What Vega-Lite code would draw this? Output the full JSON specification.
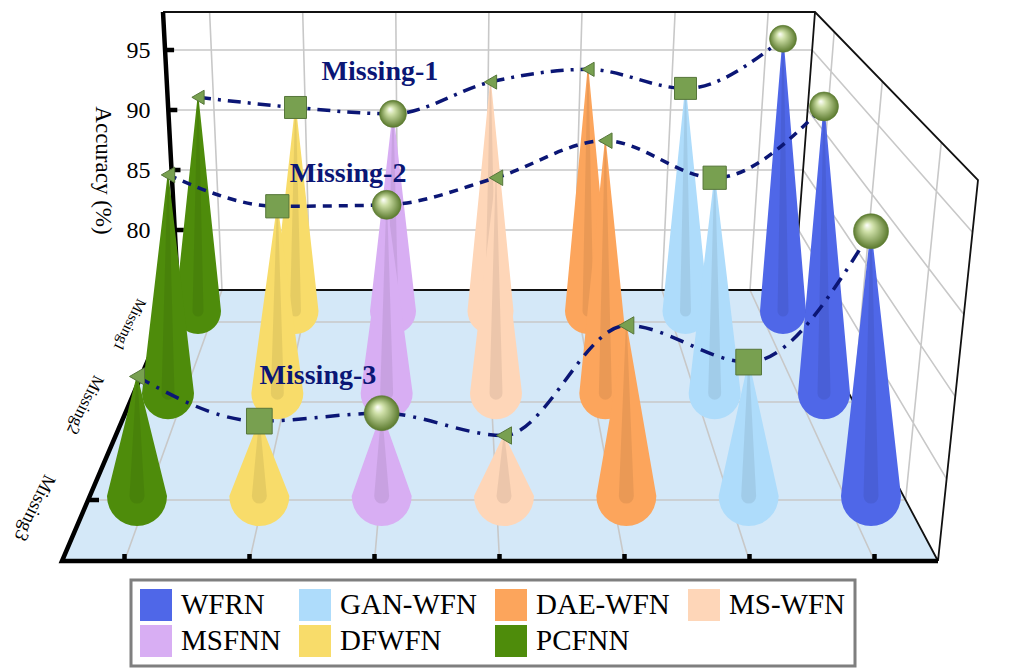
{
  "$schema": "https://vega.github.io/schema/vega-lite/v6.json",
  "width": 644,
  "height": 276,
  "autosize": {"type": "none"},
  "padding": {"left": 168, "top": 14, "right": 215, "bottom": 379},
  "background": "white",
  "config": {
    "view": {"stroke": null},
    "font": "Liberation Serif",
    "legend": {
      "symbolType": "square",
      "symbolSize": 1024,
      "symbolStrokeWidth": 0,
      "symbolOpacity": 1,
      "labelFont": "Liberation Serif",
      "labelFontSize": 29,
      "labelColor": "black",
      "labelOffset": 9,
      "columnPadding": 18,
      "rowPadding": 4,
      "padding": 9,
      "strokeColor": "#7f7f7f",
      "fillColor": "white"
    }
  },
  "data": {
    "values": [
      {"model": "PCFNN", "missing": "Missing-1", "acc": 91.8},
      {"model": "DFWFN", "missing": "Missing-1", "acc": 91.0},
      {"model": "MSFNN", "missing": "Missing-1", "acc": 90.5},
      {"model": "MS-WFN", "missing": "Missing-1", "acc": 93.0},
      {"model": "DAE-WFN", "missing": "Missing-1", "acc": 94.0},
      {"model": "GAN-WFN", "missing": "Missing-1", "acc": 92.5},
      {"model": "WFRN", "missing": "Missing-1", "acc": 96.4},
      {"model": "PCFNN", "missing": "Missing-2", "acc": 90.3},
      {"model": "DFWFN", "missing": "Missing-2", "acc": 88.1},
      {"model": "MSFNN", "missing": "Missing-2", "acc": 88.2},
      {"model": "MS-WFN", "missing": "Missing-2", "acc": 90.1},
      {"model": "DAE-WFN", "missing": "Missing-2", "acc": 92.7},
      {"model": "GAN-WFN", "missing": "Missing-2", "acc": 90.1},
      {"model": "WFRN", "missing": "Missing-2", "acc": 95.1},
      {"model": "PCFNN", "missing": "Missing-3", "acc": 82.5},
      {"model": "DFWFN", "missing": "Missing-3", "acc": 79.7},
      {"model": "MSFNN", "missing": "Missing-3", "acc": 80.2},
      {"model": "MS-WFN", "missing": "Missing-3", "acc": 78.8},
      {"model": "DAE-WFN", "missing": "Missing-3", "acc": 85.7},
      {"model": "GAN-WFN", "missing": "Missing-3", "acc": 83.4},
      {"model": "WFRN", "missing": "Missing-3", "acc": 91.6}
    ]
  },
  "resolve": {"scale": {"x": "independent", "y": "independent"}},
  "layer": [
    {
      "transform": [{"aggregate": [{"op": "count", "as": "n"}]}],
      "encoding": {
        "x": {"datum": 3.5, "type": "quantitative", "scale": {"domain": [0, 7], "nice": false, "zero": false}, "axis": null},
        "y": {
          "datum": 75, "type": "quantitative",
          "scale": {"domain": [75, 98], "nice": false, "zero": false},
          "axis": {
            "values": [80, 85, 90, 95],
            "title": "Accuracy (%)",
            "titleFont": "Liberation Serif",
            "titleFontSize": 23,
            "titleFontWeight": "normal",
            "titleColor": "black",
            "titleAngle": 90,
            "titleBaseline": "middle",
            "titleX": -66,
            "titleY": 156,
            "labelFont": "Liberation Serif",
            "labelFontSize": 24,
            "labelColor": "black",
            "labelPadding": 18,
            "ticks": false,
            "tickSize": 0,
            "domain": false,
            "grid": false
          }
        }
      },
      "layer": [
        {"mark": {"type": "point", "shape": "M-312,0L304,0L448,271L-428,271Z", "size": 4, "filled": true, "color": "#d4e8f8", "strokeWidth": 0, "opacity": 1}},
        {"mark": {"type": "point", "shape": "M-324.9,-240L322.1,-240M-321.7,-180L317.6,-180M-318.5,-120L313.1,-120M-315.2,-60L308.5,-60M-280.4,-278L-268,0M-187.3,-278L-180,0M-94.2,-278L-92,0M-1.1,-278L-4,0M92,-278L84,0M185.1,-278L172,0M278.2,-278L260,0M-268,0L-365.5,271M-180,0L-240.5,271M-92,0L-115.5,271M-4,0L9.5,271M84,0L134.5,271M172,0L259.5,271M260,0L384.5,271M-325.7,32L321,32M-360,112L363.5,112M-402,210L415.6,210M322.1,-240L482.5,-57.8M317.6,-180L473.9,24.4M313.1,-120L465.3,106.6M308.5,-60L456.6,188.8M344.2,-258.2L321,32M392.3,-208.6L363.5,112M451.3,-147.8L415.6,210", "size": 4, "filled": false, "color": "#c8c8c8", "strokeWidth": 1.6, "opacity": 1}},
        {"mark": {"type": "point", "shape": "M-327,-278L325,-278L488,-110L448,271M325,-278L304,0L448,271M-312,0L304,0", "size": 4, "filled": false, "color": "#111111", "strokeWidth": 1.8, "opacity": 1}},
        {"mark": {"type": "point", "shape": "M-327,-278L-312,0L-428,271L448,271M-324.9,-240h9M-321.7,-180h9M-318.5,-120h9M-315.2,-60h9M-325.7,32h9M-360,112h10M-402,210h11M-365.5,271v-7M-240.5,271v-7M-115.5,271v-7M9.5,271v-7M134.5,271v-7M259.5,271v-7M384.5,271v-7", "size": 4, "filled": false, "color": "black", "strokeWidth": 4.5, "opacity": 1}}
      ]
    },
    {
      "transform": [{"filter": "datum.missing == 'Missing-1'"}],
      "encoding": {
        "x": {"field": "model", "type": "nominal", "scale": {"type": "point", "domain": ["PCFNN", "DFWFN", "MSFNN", "MS-WFN", "DAE-WFN", "GAN-WFN", "WFRN"], "range": [30, 615], "padding": 0}, "axis": null},
        "y": {"field": "acc", "type": "quantitative", "scale": {"domain": [76.65, 98.35], "nice": false, "zero": false}, "axis": null}
      },
      "layer": [
        {
          "transform": [{"impute": "acc", "key": "missing", "keyvals": ["Missing-1", "base"], "groupby": ["model"], "value": 75}],
          "mark": {"type": "trail", "opacity": 1},
          "encoding": {
            "color": {"field": "model", "type": "nominal", "scale": {"domain": ["WFRN", "GAN-WFN", "DAE-WFN", "MS-WFN", "MSFNN", "DFWFN", "PCFNN"], "range": ["#4f67e8", "#aedcfb", "#fca55c", "#fed6b8", "#d8aef3", "#f8dc6a", "#4e8c0b"]}, "legend": {"orient": "none", "legendX": -37, "legendY": 566, "columns": 4, "direction": "horizontal", "title": null, "encode": {"symbols": {"update": {"fill": {"scale": "color", "field": "value"}, "fillOpacity": {"value": 1}, "opacity": {"value": 1}}}, "legend": {"update": {"strokeWidth": {"value": 3}}}}}},
            "size": {"condition": {"test": "datum.missing == 'base'", "value": 46}, "value": 0},
            "order": {"value": null}
          }
        },
        {
          "transform": [{"impute": "acc", "key": "missing", "keyvals": ["Missing-1", "base"], "groupby": ["model"], "value": 75}],
          "mark": {"type": "trail", "color": "black", "opacity": 0.07},
          "encoding": {
            "detail": {"field": "model"},
            "size": {"condition": {"test": "datum.missing == 'base'", "value": 11}, "value": 0},
            "order": {"value": null}
          }
        },
        {
          "mark": {"type": "line", "interpolate": "monotone", "color": "#0b1675", "strokeWidth": 3.5, "strokeDash": [13, 7, 3, 7]},
          "encoding": {"order": {"value": null}}
        },
        {
          "transform": [{"filter": "datum.model != 'MSFNN' && datum.model != 'WFRN'"}],
          "mark": {"type": "point", "filled": true, "color": "#78a050", "stroke": "#56763a", "strokeWidth": 1, "opacity": 1},
          "encoding": {
            "shape": {"field": "model", "type": "nominal", "scale": {"domain": ["PCFNN", "DFWFN", "MS-WFN", "DAE-WFN", "GAN-WFN"], "range": ["triangle-left", "square", "triangle-left", "triangle-left", "square"]}, "legend": null},
            "size": {"condition": {"test": "datum.model == 'DFWFN' || datum.model == 'GAN-WFN'", "value": 484}, "value": 200}
          }
        },
        {
          "transform": [{"filter": "datum.model == 'MSFNN' || datum.model == 'WFRN'"}],
          "mark": {"type": "point", "shape": "circle", "filled": true, "size": 729, "opacity": 1, "stroke": "#5a7a30", "strokeWidth": 0.6,
            "fill": {"gradient": "radial", "x1": 0.38, "y1": 0.32, "r1": 0, "x2": 0.5, "y2": 0.5, "r2": 0.5, "stops": [{"offset": 0, "color": "#ffffff"}, {"offset": 0.3, "color": "#cfe0a8"}, {"offset": 1, "color": "#5b7a2e"}]}}
        }
      ]
    },
    {
      "transform": [{"filter": "datum.missing == 'Missing-2'"}],
      "encoding": {
        "x": {"field": "model", "type": "nominal", "scale": {"type": "point", "domain": ["PCFNN", "DFWFN", "MSFNN", "MS-WFN", "DAE-WFN", "GAN-WFN", "WFRN"], "range": [0, 656], "padding": 0}, "axis": null},
        "y": {"field": "acc", "type": "quantitative", "scale": {"domain": [82.23, 101.58], "nice": false, "zero": false}, "axis": null}
      },
      "layer": [
        {
          "transform": [{"impute": "acc", "key": "missing", "keyvals": ["Missing-2", "base"], "groupby": ["model"], "value": 75}],
          "mark": {"type": "trail", "opacity": 1},
          "encoding": {
            "color": {"field": "model", "type": "nominal", "scale": {"domain": ["WFRN", "GAN-WFN", "DAE-WFN", "MS-WFN", "MSFNN", "DFWFN", "PCFNN"], "range": ["#4f67e8", "#aedcfb", "#fca55c", "#fed6b8", "#d8aef3", "#f8dc6a", "#4e8c0b"]}, "legend": {"orient": "none", "legendX": -37, "legendY": 566, "columns": 4, "direction": "horizontal", "title": null, "encode": {"symbols": {"update": {"fill": {"scale": "color", "field": "value"}, "fillOpacity": {"value": 1}, "opacity": {"value": 1}}}, "legend": {"update": {"strokeWidth": {"value": 3}}}}}},
            "size": {"condition": {"test": "datum.missing == 'base'", "value": 52}, "value": 0},
            "order": {"value": null}
          }
        },
        {
          "transform": [{"impute": "acc", "key": "missing", "keyvals": ["Missing-2", "base"], "groupby": ["model"], "value": 75}],
          "mark": {"type": "trail", "color": "black", "opacity": 0.07},
          "encoding": {
            "detail": {"field": "model"},
            "size": {"condition": {"test": "datum.missing == 'base'", "value": 13}, "value": 0},
            "order": {"value": null}
          }
        },
        {
          "mark": {"type": "line", "interpolate": "monotone", "color": "#0b1675", "strokeWidth": 3.5, "strokeDash": [9, 7]},
          "encoding": {"order": {"value": null}}
        },
        {
          "transform": [{"filter": "datum.model != 'MSFNN' && datum.model != 'WFRN'"}],
          "mark": {"type": "point", "filled": true, "color": "#78a050", "stroke": "#56763a", "strokeWidth": 1, "opacity": 1},
          "encoding": {
            "shape": {"field": "model", "type": "nominal", "scale": {"domain": ["PCFNN", "DFWFN", "MS-WFN", "DAE-WFN", "GAN-WFN"], "range": ["triangle-left", "square", "triangle-left", "triangle-left", "square"]}, "legend": null},
            "size": {"condition": {"test": "datum.model == 'DFWFN' || datum.model == 'GAN-WFN'", "value": 540}, "value": 240}
          }
        },
        {
          "transform": [{"filter": "datum.model == 'MSFNN' || datum.model == 'WFRN'"}],
          "mark": {"type": "point", "shape": "circle", "filled": true, "size": 841, "opacity": 1, "stroke": "#5a7a30", "strokeWidth": 0.6,
            "fill": {"gradient": "radial", "x1": 0.38, "y1": 0.32, "r1": 0, "x2": 0.5, "y2": 0.5, "r2": 0.5, "stops": [{"offset": 0, "color": "#ffffff"}, {"offset": 0.3, "color": "#cfe0a8"}, {"offset": 1, "color": "#5b7a2e"}]}}
        }
      ]
    },
    {
      "transform": [{"filter": "datum.missing == 'Missing-3'"}],
      "encoding": {
        "x": {"field": "model", "type": "nominal", "scale": {"type": "point", "domain": ["PCFNN", "DFWFN", "MSFNN", "MS-WFN", "DAE-WFN", "GAN-WFN", "WFRN"], "range": [-31, 703], "padding": 0}, "axis": null},
        "y": {"field": "acc", "type": "quantitative", "scale": {"domain": [87.92, 105.22], "nice": false, "zero": false}, "axis": null}
      },
      "layer": [
        {
          "transform": [{"impute": "acc", "key": "missing", "keyvals": ["Missing-3", "base"], "groupby": ["model"], "value": 75}],
          "mark": {"type": "trail", "opacity": 1},
          "encoding": {
            "color": {"field": "model", "type": "nominal", "scale": {"domain": ["WFRN", "GAN-WFN", "DAE-WFN", "MS-WFN", "MSFNN", "DFWFN", "PCFNN"], "range": ["#4f67e8", "#aedcfb", "#fca55c", "#fed6b8", "#d8aef3", "#f8dc6a", "#4e8c0b"]}, "legend": {"orient": "none", "legendX": -37, "legendY": 566, "columns": 4, "direction": "horizontal", "title": null, "encode": {"symbols": {"update": {"fill": {"scale": "color", "field": "value"}, "fillOpacity": {"value": 1}, "opacity": {"value": 1}}}, "legend": {"update": {"strokeWidth": {"value": 3}}}}}},
            "size": {"condition": {"test": "datum.missing == 'base'", "value": 60}, "value": 0},
            "order": {"value": null}
          }
        },
        {
          "transform": [{"impute": "acc", "key": "missing", "keyvals": ["Missing-3", "base"], "groupby": ["model"], "value": 75}],
          "mark": {"type": "trail", "color": "black", "opacity": 0.07},
          "encoding": {
            "detail": {"field": "model"},
            "size": {"condition": {"test": "datum.missing == 'base'", "value": 15}, "value": 0},
            "order": {"value": null}
          }
        },
        {
          "mark": {"type": "line", "interpolate": "monotone", "color": "#0b1675", "strokeWidth": 3.5, "strokeDash": [14, 8, 3, 8]},
          "encoding": {"order": {"value": null}}
        },
        {
          "transform": [{"filter": "datum.model != 'MSFNN' && datum.model != 'WFRN'"}],
          "mark": {"type": "point", "filled": true, "color": "#78a050", "stroke": "#56763a", "strokeWidth": 1, "opacity": 1},
          "encoding": {
            "shape": {"field": "model", "type": "nominal", "scale": {"domain": ["PCFNN", "DFWFN", "MS-WFN", "DAE-WFN", "GAN-WFN"], "range": ["triangle-left", "square", "triangle-left", "triangle-left", "square"]}, "legend": null},
            "size": {"condition": {"test": "datum.model == 'DFWFN' || datum.model == 'GAN-WFN'", "value": 660}, "value": 300}
          }
        },
        {
          "transform": [{"filter": "datum.model == 'MSFNN' || datum.model == 'WFRN'"}],
          "mark": {"type": "point", "shape": "circle", "filled": true, "size": 1225, "opacity": 1, "stroke": "#5a7a30", "strokeWidth": 0.6,
            "fill": {"gradient": "radial", "x1": 0.38, "y1": 0.32, "r1": 0, "x2": 0.5, "y2": 0.5, "r2": 0.5, "stops": [{"offset": 0, "color": "#ffffff"}, {"offset": 0.3, "color": "#cfe0a8"}, {"offset": 1, "color": "#5b7a2e"}]}}
        }
      ]
    },
    {
      "transform": [{"aggregate": [{"op": "count", "as": "n"}]}],
      "layer": [
        {
          "mark": {"type": "text", "text": "Missing-1", "font": "Liberation Serif", "fontSize": 28, "fontWeight": "bold", "color": "#0b1675", "align": "center", "baseline": "middle"},
          "encoding": {
            "x": {"datum": 2.304, "type": "quantitative", "scale": {"domain": [0, 7], "nice": false, "zero": false}, "axis": null},
            "y": {"datum": 93.17, "type": "quantitative", "scale": {"domain": [75, 98], "nice": false, "zero": false}, "axis": null}
          }
        },
        {
          "mark": {"type": "text", "text": "Missing-2", "font": "Liberation Serif", "fontSize": 28, "fontWeight": "bold", "color": "#0b1675", "align": "center", "baseline": "middle"},
          "encoding": {
            "x": {"datum": 1.957, "type": "quantitative", "scale": {"domain": [0, 7], "nice": false, "zero": false}, "axis": null},
            "y": {"datum": 84.67, "type": "quantitative", "scale": {"domain": [75, 98], "nice": false, "zero": false}, "axis": null}
          }
        },
        {
          "mark": {"type": "text", "text": "Missing-3", "font": "Liberation Serif", "fontSize": 28, "fontWeight": "bold", "color": "#0b1675", "align": "center", "baseline": "middle"},
          "encoding": {
            "x": {"datum": 1.63, "type": "quantitative", "scale": {"domain": [0, 7], "nice": false, "zero": false}, "axis": null},
            "y": {"datum": 67.83, "type": "quantitative", "scale": {"domain": [75, 98], "nice": false, "zero": false}, "axis": null}
          }
        },
        {
          "mark": {"type": "text", "text": "Missing1", "font": "Liberation Serif", "fontSize": 15, "color": "black", "align": "center", "baseline": "middle", "angle": 116},
          "encoding": {
            "x": {"datum": -0.413, "type": "quantitative", "scale": {"domain": [0, 7], "nice": false, "zero": false}, "axis": null},
            "y": {"datum": 72.08, "type": "quantitative", "scale": {"domain": [75, 98], "nice": false, "zero": false}, "axis": null}
          }
        },
        {
          "mark": {"type": "text", "text": "Missing2", "font": "Liberation Serif", "fontSize": 17, "color": "black", "align": "center", "baseline": "middle", "angle": 116},
          "encoding": {
            "x": {"datum": -0.902, "type": "quantitative", "scale": {"domain": [0, 7], "nice": false, "zero": false}, "axis": null},
            "y": {"datum": 65.42, "type": "quantitative", "scale": {"domain": [75, 98], "nice": false, "zero": false}, "axis": null}
          }
        },
        {
          "mark": {"type": "text", "text": "Missing3", "font": "Liberation Serif", "fontSize": 19, "color": "black", "align": "center", "baseline": "middle", "angle": 116},
          "encoding": {
            "x": {"datum": -1.446, "type": "quantitative", "scale": {"domain": [0, 7], "nice": false, "zero": false}, "axis": null},
            "y": {"datum": 56.83, "type": "quantitative", "scale": {"domain": [75, 98], "nice": false, "zero": false}, "axis": null}
          }
        }
      ]
    }
  ]
}
